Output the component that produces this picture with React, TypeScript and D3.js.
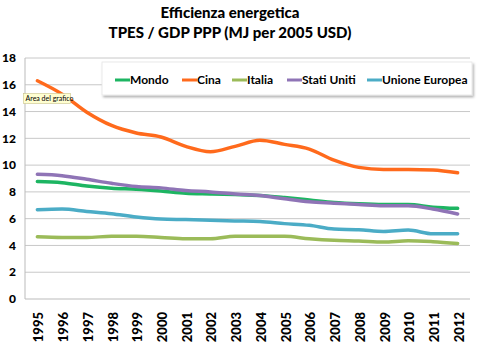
import React from "react";
import * as d3 from "d3";

const years = ["1995","1996","1997","1998","1999","2000","2001","2002","2003","2004","2005","2006","2007","2008","2009","2010","2011","2012"];
const mondo = [8.77,8.69,8.44,8.27,8.2,8.07,7.9,7.85,7.8,7.73,7.58,7.4,7.21,7.11,7.06,7.06,6.86,6.77];
const cina = [16.3,15.3,13.95,12.96,12.4,12.1,11.4,11.0,11.4,11.85,11.55,11.2,10.37,9.83,9.68,9.68,9.63,9.43];
const italia = [4.65,4.6,4.6,4.68,4.68,4.6,4.5,4.5,4.68,4.68,4.68,4.5,4.38,4.33,4.25,4.35,4.28,4.15];
const statiUniti = [9.31,9.21,8.94,8.64,8.4,8.3,8.1,8.0,7.85,7.73,7.48,7.26,7.16,7.06,6.96,6.96,6.72,6.35];
const unioneEuropea = [6.67,6.72,6.54,6.37,6.12,5.97,5.93,5.88,5.83,5.78,5.63,5.5,5.22,5.18,5.05,5.15,4.87,4.87];
const yTicks = [0,2,4,6,8,10,12,14,16,18];

const seriesNames = ["Mondo","Cina","Italia","Stati Uniti","Unione Europea"];
const seriesData = [mondo, cina, italia, statiUniti, unioneEuropea];
const colors = ["#1db562","#ff6a1c","#9bbb59","#8f74b6","#4bacc6"];
const drawOrder = [2,4,0,3,1];

const W = 481, H = 357;
const left = 25, right = 470, top = 58, bottom = 299;
const font = "Lato, 'Open Sans', sans-serif";

export default function App() {
  const x = d3.scaleBand<string>().domain(years).range([left, right]);
  const y = d3.scaleLinear().domain([0, 18]).range([bottom, top]);
  const line = d3.line<number>()
    .x((_, i) => (x(years[i]) as number) + x.bandwidth() / 2)
    .y((d) => y(d))
    .curve(d3.curveMonotoneX);

  const legendX = [115, 182, 232, 287, 367];

  return (
    <svg width={W} height={H} style={{ position: "absolute", left: 0, top: 0, background: "#fff" }}>
      <defs>
        <filter id="sh" x="-5%" y="-20%" width="115%" height="160%">
          <feDropShadow dx="1.5" dy="2" stdDeviation="1.2" floodColor="#000" floodOpacity="0.3" />
        </filter>
      </defs>
      <text x={230} y={18} textAnchor="middle" fontFamily={font} fontWeight="900" fontSize={15} fill="#000">Efficienza energetica</text>
      <text x={230} y={38} textAnchor="middle" fontFamily={font} fontWeight="900" fontSize={15} fill="#000">TPES / GDP PPP (MJ per 2005 USD)</text>

      {yTicks.map((t) => (
        <g key={t}>
          {t > 0 && <line x1={left} x2={right} y1={y(t)} y2={y(t)} stroke="#c8c8c8" strokeWidth={1} />}
          <text x={16} y={y(t)} dy="0.35em" textAnchor="end" fontFamily={font} fontWeight="900" fontSize={12} fill="#000">{t}</text>
        </g>
      ))}
      <line x1={left} x2={left} y1={top} y2={bottom} stroke="#bbb" strokeWidth={1} />
      <line x1={left} x2={right} y1={bottom} y2={bottom} stroke="#bbb" strokeWidth={1} />

      {years.map((yr) => {
        const cx = (x(yr) as number) + x.bandwidth() / 2;
        return (
          <text key={yr} transform={`translate(${cx + 1.5},${312}) rotate(-90)`} textAnchor="end" dy="0.35em"
            fontFamily={font} fontWeight="900" fontSize={13} fill="#000">{yr}</text>
        );
      })}

      {drawOrder.map((i) => (
        <path key={seriesNames[i]} d={line(seriesData[i]) || ""} fill="none" stroke={colors[i]} strokeWidth={3.5} strokeLinejoin="round" strokeLinecap="round" />
      ))}

      <rect x={102} y={62} width={370} height={33} fill="#fff" stroke="#e4e4e4" strokeWidth={0.8} filter="url(#sh)" />
      {seriesNames.map((n, i) => (
        <g key={n}>
          <line x1={legendX[i]} x2={legendX[i] + 15} y1={80} y2={80} stroke={colors[i]} strokeWidth={3} />
          <text x={legendX[i] + 15} y={80} dy="0.35em" fontFamily={font} fontWeight="bold" fontSize={12} fill="#000">{n}</text>
        </g>
      ))}

      <rect x={23.5} y={93.5} width={47} height={10} fill="#fefed0" stroke="#c9c28a" strokeWidth={0.6} />
      <text x={25.5} y={98.8} dy="0.35em" fontFamily={font} fontSize={7} fill="#000">Area del grafico</text>
    </svg>
  );
}
